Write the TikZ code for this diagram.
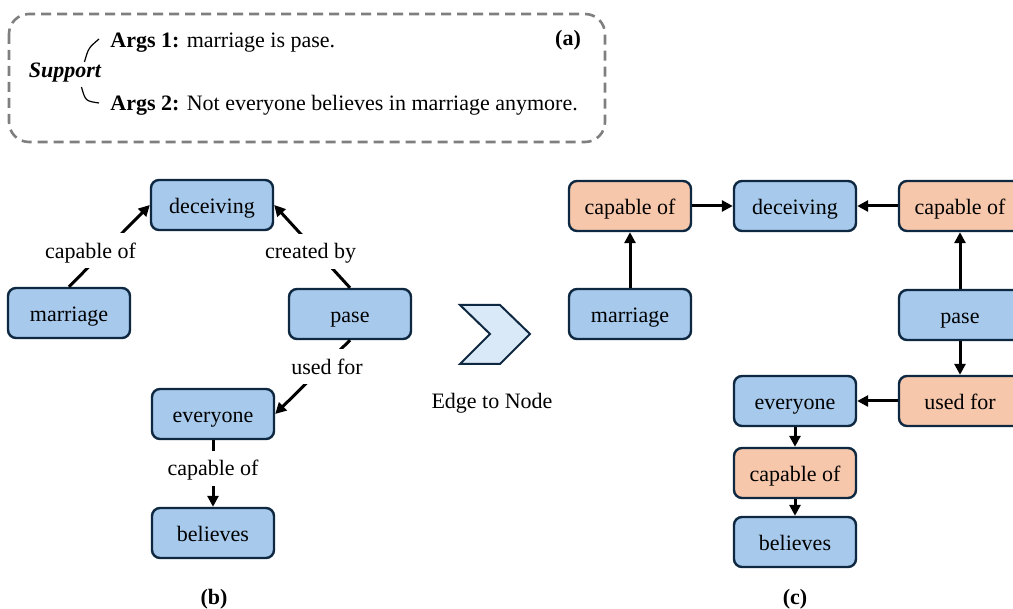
\documentclass[tikz,border=0pt]{standalone}
\usepackage{fontspec}
\setmainfont{Liberation Serif}
\usepackage{xcolor}
\definecolor{entblue}{HTML}{A6C9EC}
\definecolor{relorange}{HTML}{F7C7AC}
\definecolor{boxnavy}{HTML}{0E2841}
\definecolor{chevblue}{HTML}{DAE9F8}
\definecolor{dashgray}{HTML}{7F7F7F}
\usepackage{tikz}
\usetikzlibrary{arrows.meta}

\begin{document}
\begin{tikzpicture}[x=0.5pt, y=-0.5pt, font=\fontsize{11}{13}\selectfont,
    ent/.style={draw=boxnavy, line width=1.2pt, fill=entblue, rounded corners=4pt,
      minimum width=61pt, minimum height=25pt, inner sep=0pt, text height=9.5pt, text depth=1pt},
    rel/.style={ent, fill=relorange},
    lbl/.style={fill=white, inner sep=4pt, text height=8.5pt, text depth=1pt},
    link/.style={line width=1.5pt, -{Triangle[length=5.5pt, width=5.5pt]}}]
  \useasboundingbox (0,0) rectangle (1013,609);
  \clip (0,0) rectangle (1013,609);

  % (a) arguments
  \draw[dashgray, line width=1.3pt, dash pattern=on 5pt off 3pt, rounded corners=10pt]
    (9,14) rectangle (605,142);
  \node[font=\fontsize{11}{13}\selectfont\bfseries\itshape, inner sep=0pt] (sup) at (65,73) {Support};
  \node[anchor=west, inner sep=0pt] (args1) at (110,43) {\textbf{Args 1:} marriage is pase.};
  \node[anchor=west, inner sep=0pt] (args2) at (110,105) {\textbf{Args 2:} Not everyone believes in marriage anymore.};
  \node[font=\fontsize{11}{13}\selectfont\bfseries] (pa) at (568,40) {(a)};
  \draw[line width=0.6pt] ([shift={(-17,-1)}]sup.north east) .. controls +(4,-14) .. ([shift={(-11,-4)}]args1.west);
  \draw[line width=0.6pt] ([shift={(-20,4)}]sup.south east) .. controls +(4,14) .. ([shift={(-11,-2)}]args2.west);

  % (b) graph
  \foreach \n/\t/\x/\y in {bdec/deceiving/212/205, bmar/marriage/69/313, bpase/pase/350/314,
      bevr/everyone/213/414, bbel/believes/213/533}
    \node[ent] (\n) at (\x,\y) {\t};
  \draw[link] (bmar.north) -- node[lbl, pos=.44, xshift=-7pt] {capable of} (bdec.west);
  \draw[link] (bpase.north) -- node[lbl, pos=.44, xshift=-3pt] {created by} (bdec.east);
  \draw[link] (bpase.south) -- node[lbl, pos=.36, xshift=2pt] {used for} (bevr.east);
  \draw[link] (bevr) -- node[lbl, pos=.42] {capable of} (bbel);
  \node[font=\fontsize{11}{13}\selectfont\bfseries] (pb) at (214,599) {(b)};

  % edge to node
  \draw[draw=boxnavy, line width=1pt, fill=chevblue]
    (460,305) -- (500,305) -- (530,334) -- (500,364) -- (460,364) -- (490,334) -- cycle;
  \node (e2n) at (492,403) {Edge to Node};

  % (c) graph
  \foreach \n/\t/\x/\y in {cdec/deceiving/795/206, cmar/marriage/630/314, cpase/pase/960/315,
      cevr/everyone/795/401, cbel/believes/795/542}
    \node[ent] (\n) at (\x,\y) {\t};
  \foreach \n/\t/\x/\y in {ccap1/capable of/630/206, ccap2/capable of/960/206,
      ccap3/capable of/795/473, cused/used for/960/401}
    \node[rel] (\n) at (\x,\y) {\t};
  \draw[link] (cmar) -- (ccap1);
  \draw[link] (ccap1) -- (cdec);
  \draw[link] (ccap2) -- (cdec);
  \draw[link] (cpase) -- (ccap2);
  \draw[link] (cpase) -- (cused);
  \draw[link] (cused) -- (cevr);
  \draw[link] (cevr) -- (ccap3);
  \draw[link] (ccap3) -- (cbel);
  \node[font=\fontsize{11}{13}\selectfont\bfseries] (pc) at (795,599) {(c)};
\end{tikzpicture}
\end{document}
